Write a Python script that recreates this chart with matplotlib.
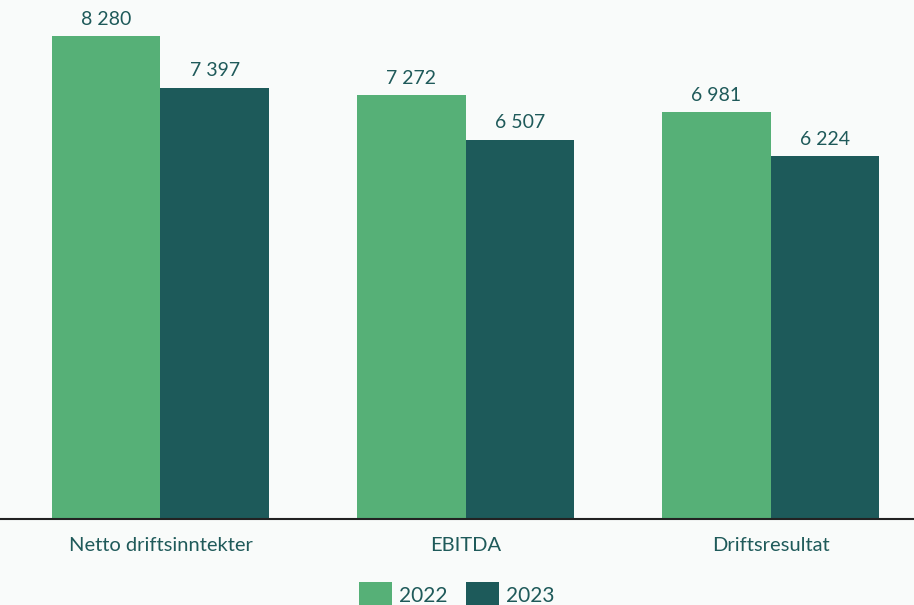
import matplotlib.pyplot as plt
import numpy as np

kategorier = ['Netto driftsinntekter', 'EBITDA', 'Driftsresultat']
verdier_2022 = [8280, 7272, 6981]
verdier_2023 = [7397, 6507, 6224]
aar = ['2022', '2023']

gronn = '#56B077'
mork = '#1D5A5A'
tekst = '#1F5A5A'
bakgrunn = '#F9FBFA'

plt.rcParams['font.family'] = ['Lato', 'DejaVu Sans']

fig = plt.figure(figsize=(9.14, 6.05), dpi=100, facecolor=bakgrunn)
ax = fig.add_axes([0.0, 0.1421, 1.0, 0.858], facecolor=bakgrunn)

x = np.arange(len(kategorier))
b = 0.355
s1 = ax.bar(x - b / 2, verdier_2022, b, color=gronn, label=aar[0])
s2 = ax.bar(x + b / 2, verdier_2023, b, color=mork, label=aar[1])

def fmt(v):
    return f'{v:,}'.replace(',', ' ')

for serie, verdier in ((s1, verdier_2022), (s2, verdier_2023)):
    for rekt, v in zip(serie, verdier):
        ax.annotate(fmt(v), (rekt.get_x() + rekt.get_width() / 2, v),
                    xytext=(0, 6), textcoords='offset points',
                    ha='center', va='bottom', fontsize=14, color=tekst)

ax.set_xlim(-0.526, 2.470)
ax.set_ylim(0, 8900)
ax.set_xticks(x)
ax.set_xticklabels(kategorier, fontsize=14.5, color=tekst)
ax.tick_params(axis='x', length=0, pad=13)
ax.set_yticks([])
for side in ('top', 'right', 'left'):
    ax.spines[side].set_visible(False)
ax.spines['bottom'].set_color('#222222')
ax.spines['bottom'].set_linewidth(1.5)

fig.legend(handles=[s1, s2], loc='upper center', bbox_to_anchor=(0.5, 0.055),
           ncol=2, frameon=False, fontsize=15, labelcolor=tekst, borderpad=0,
           handlelength=1.55, handleheight=1.5, handletextpad=0.36, columnspacing=0.9)

fig.savefig('out.png', dpi=100, facecolor=bakgrunn)
